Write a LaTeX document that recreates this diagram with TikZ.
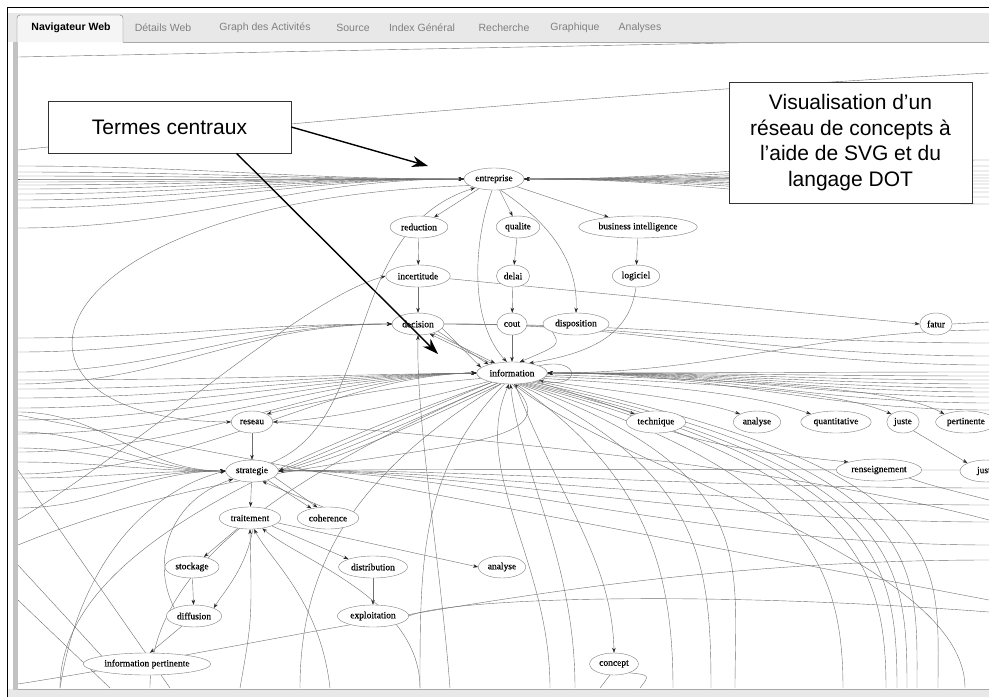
\documentclass[tikz,border=0pt]{standalone}
\usepackage{fontspec}
\usepackage{tikz}
\usetikzlibrary{arrows.meta,shapes.geometric,backgrounds}
\newfontfamily\arialfont{Liberation Sans}
\newfontfamily\timesfont[FakeBold=0.4]{Liberation Serif}
\newcommand{\termfont}{\timesfont\fontsize{9.5}{10}\selectfont}
\newcommand{\calloutfont}{\arialfont\fontsize{21}{25.5}\selectfont}
\newcommand{\tabfont}{\arialfont\fontsize{10.5}{12}\selectfont}
\definecolor{tabgray}{HTML}{E8E8E8}
\definecolor{panelgray}{HTML}{A8A8A8}
\definecolor{wiregray}{HTML}{707070}
\begin{document}
\begin{tikzpicture}[x=1pt,y=-1pt,
 term/.style={ellipse,draw=black!50,fill=white,font=\termfont,inner xsep=2.5pt,inner ysep=1pt,minimum height=22pt},
 lien/.style={draw=wiregray,line width=0.4pt,-{Stealth[length=5pt,width=3.5pt,color=black!85]}},
 wire/.style={draw=wiregray,line width=0.4pt},
 callout/.style={draw=black!80,fill=white,font=\calloutfont,align=center,line width=0.6pt,inner sep=0pt},
 pointer/.style={line width=1.4pt,-{Stealth[length=16pt,width=11pt]}},
 tablabel/.style={font=\tabfont,text=black!50,inner sep=0pt},
]
\useasboundingbox (0,0) rectangle (989,697);

\node[tablabel,text=black,font=\tabfont\bfseries] (tab1) at (71,28) {Navigateur Web};
\foreach \x/\t [count=\i from 2] in {163/Détails Web,265/Graph des Activités,353/Source,422/Index Général,504/Recherche,575/Graphique,640/Analyses}
  \node[tablabel] (tab\i) at (\x,28) {\t};

\node[term] (entreprise) at (494,179) {entreprise};
\node[term] (reduction) at (419,227) {reduction};
\node[term] (qualite) at (518,227) {qualite};
\node[term] (bi) at (638,227) {business intelligence};
\node[term] (incertitude) at (418,276) {incertitude};
\node[term] (delai) at (513,276) {delai};
\node[term] (logiciel) at (636,276) {logiciel};
\node[term] (decision) at (418,324) {decision};
\node[term] (cout) at (512,324) {cout};
\node[term] (disposition) at (576,324) {disposition};
\node[term] (fatur) at (936,324) {fatur};
\node[term] (information) at (512,373) {information};
\node[term] (reseau) at (252,422) {reseau};
\node[term] (technique) at (656,422) {technique};
\node[term] (analyseA) at (757,422) {analyse};
\node[term] (quantitative) at (836,422) {quantitative};
\node[term] (juste) at (903,422) {juste};
\node[term] (pertinente) at (966,422) {pertinente};
\node[term] (renseignement) at (879,470) {renseignement};
\node[term,minimum width=52pt] (justeB) at (986,471) {juste};
\node[term] (strategie) at (252,471) {strategie};
\node[term] (traitement) at (250,518) {traitement};
\node[term] (coherence) at (328,518) {coherence};
\node[term] (stockage) at (192,567) {stockage};
\node[term] (distribution) at (373,567) {distribution};
\node[term] (analyseB) at (502,567) {analyse};
\node[term] (diffusion) at (194,616) {diffusion};
\node[term] (exploitation) at (373,616) {exploitation};
\node[term] (infopert) at (147,664) {information pertinente};
\node[term] (concept) at (614,664) {concept};

\begin{scope}[on background layer]
\fill[white] (0,0) rectangle (989,697);
\fill[tabgray] (7,13) rectangle (989,42);
\fill[tabgray] (7,689) rectangle (989,697);
\fill[panelgray!70] (13,42) rectangle (18,690);
\draw[line width=1pt] (7.5,697) -- (7.5,7.5) -- (989,7.5);
\draw[black!55,fill=white!96!black,rounded corners=3pt] (17,42) -- (17,15) -- (123,15) -- (123,42);
\draw[panelgray] (123,42) -- (989,42);
\draw[panelgray] (18,689) -- (989,689);
\begin{scope}
\clip (18,43) rectangle (989,688);
\coordinate (t1) at (18,57); \coordinate (t2) at (880,40);
\draw[wire] (t1) -- (t2);
\coordinate (t3) at (18,150); \coordinate (t4) at (989,73);
\draw[wire] (t3) .. controls (400,112) and (700,88) .. (t4);

\foreach \y [count=\i] in {166,172,176,179,182,185,189,194,200,208,228}{
  \coordinate (ew\i) at (18,\y);
  \draw[lien] (ew\i) to[out=0,in=180] (entreprise.west);
}
\foreach \y [count=\i] in {160,166,171,175,178,181,184,188,192,197,204}{
  \coordinate (ee\i) at (989,\y);
  \draw[lien] (ee\i) to[out=180,in=0] (entreprise.east);
}
\draw[lien] (entreprise) -- (reduction);
\draw[lien] (entreprise) -- (qualite);
\draw[lien] (entreprise) -- (bi);
\draw[lien] (entreprise.-60) .. controls (560,230) and (578,270) .. (disposition.north);
\draw[lien] (entreprise.-100) .. controls (474,240) and (468,320) .. (information.115);
\draw[lien] (reduction) -- (incertitude);
\draw[lien] (incertitude) -- (decision);
\draw[lien] (qualite) -- (delai);
\draw[lien] (delai) -- (cout);
\draw[lien] (bi) -- (logiciel);
\draw[lien] (cout) -- (information);
\draw[lien] (disposition.south west) .. controls (560,345) .. (information.55);
\draw[lien] (logiciel.south) .. controls (630,330) and (600,352) .. (information.30);
\draw[lien] (incertitude.-5) -- (fatur.west);
\draw[lien] (decision.-10) -- (information.170);
\draw[lien] (decision.-20) -- (information.160);
\draw[lien] (decision.-30) -- (information.150);
\draw[lien] (information.155) -- (decision.-40);
\draw[lien] (information.15) .. controls (582,356) and (582,390) .. (information.-15);

\draw[lien] (information.-20) .. controls (580,395) and (600,402) .. (technique.north west);
\draw[lien] (information.-15) .. controls (620,392) and (700,400) .. (analyseA.north west);
\draw[lien] (information.-10) .. controls (680,386) and (760,396) .. (quantitative.north west);
\draw[lien] (information.-6) .. controls (760,384) and (850,396) .. (juste.north west);
\draw[lien] (information.-3) .. controls (830,382) and (910,395) .. (pertinente.north west);
\draw[lien] (juste.-40) -- (justeB.north west);
\draw[lien] (technique.-30) .. controls (720,448) and (790,456) .. (renseignement.north west);
\coordinate (rr) at (989,500);
\draw[wire] (renseignement.-15) .. controls (930,485) .. (rr);

\foreach \y [count=\i] in {330,372,376,380,384,388,392,397,403,410}{
  \coordinate (ie\i) at (989,\y);
  \draw[lien] (ie\i) to[out=180,in=0] (information.east);
}
\foreach \y [count=\i] in {343,356,365}{
  \coordinate (dr\i) at (989,\y);
  \draw[wire] (decision.east) to[out=0,in=180] (dr\i);
}
\coordinate (fr) at (989,322);
\draw[wire] (fatur.east) -- (fr);
\foreach \y [count=\i] in {338,352,372,384}{
  \coordinate (dl\i) at (18,\y);
  \draw[lien] (dl\i) to[out=0,in=180] (decision.west);
}
\coordinate (il) at (18,520);
\draw[lien] (il) .. controls (150,440) and (300,300) .. (incertitude.west);

\foreach \y [count=\i] in {380,389,398,408,420,434,452,474}{
  \coordinate (iw\i) at (18,\y);
  \draw[lien] (iw\i) .. controls (200,\y) and (330,375) .. (information.west);
}
\draw[lien] (information.190) .. controls (400,385) and (320,400) .. (reseau.north east);
\draw[lien] (information.200) .. controls (420,400) and (330,420) .. (reseau.east);
\foreach \a/\d in {205/0,215/6,225/12}
  \draw[lien] (information.\a) .. controls (400,420+\d) and (320,455+\d) .. (strategie.east);

\foreach \y [count=\i] in {412,432,448,462,478,492,508}{
  \coordinate (sl\i) at (18,\y);
  \draw[lien] (sl\i) to[out=0,in=180] (strategie.west);
}
\foreach \y [count=\i] in {470,488,505,522,545}{
  \coordinate (sr\i) at (989,\y);
  \draw[lien] (sr\i) .. controls (700,\y) and (450,468) .. (strategie.east);
}

\foreach \a/\bx/\cx [count=\i] in {205/60/250,215/150/300,225/300/360,236/420/420,290/673/640,298/711/700,305/735/760,312/843/800,318/886/850,324/897/880,330/907/900,336/917/930,342/938/960}{
  \coordinate (ib\i) at (\bx,688);
  \draw[wire] (information.\a) .. controls (\cx,470) and (\bx,560) .. (ib\i);
}
\foreach \a/\bx/\cx [count=\i] in {255/550/470,262/575/520,280/965/620}{
  \coordinate (ia\i) at (\bx,688);
  \draw[lien] (ia\i) .. controls (\bx,560) and (\cx,470) .. (information.\a);
}

\draw[lien] (reseau) -- (strategie);
\draw[lien] (strategie) -- (traitement);
\draw[lien] (strategie.-30) -- (coherence.150);
\draw[lien] (strategie.-15) -- (coherence.135);
\draw[lien] (coherence.115) -- (strategie.-45);
\draw[lien] (traitement) -- (stockage);
\draw[lien] (traitement.-75) .. controls (245,570) and (225,590) .. (diffusion.north east);
\draw[lien] (stockage) -- (diffusion);
\draw[lien] (diffusion) -- (infopert.75);
\draw[lien] (traitement.-20) -- (distribution.north west);
\draw[lien] (distribution) -- (exploitation);
\draw[lien] (traitement.-10) -- (analyseB.west);

\draw[lien] (entreprise.195) .. controls (20,200) and (-30,420) .. (reseau.west);
\draw[lien] (strategie.north east) .. controls (380,420) and (340,230) .. (entreprise.205);

\coordinate (db) at (450,688);
\draw[lien] (db) .. controls (440,560) and (416,420) .. (decision.south);
\coordinate (tb1) at (240,688); \coordinate (tb2) at (330,688); \coordinate (tb3) at (420,688);
\draw[lien] (tb1) .. controls (252,620) .. (traitement.south);
\draw[lien] (tb2) .. controls (320,600) and (270,560) .. (traitement.-70);
\draw[lien] (tb3) .. controls (420,600) and (300,560) .. (traitement.-40);

\draw[lien] (information.-75) .. controls (560,500) and (612,560) .. (concept.north);
\coordinate (cb1) at (600,688); \coordinate (cb2) at (640,688);
\draw[wire] (concept.-110) -- (cb1);
\draw[wire] (concept.-30) .. controls (650,675) .. (cb2);

\coordinate (x1) at (18,415); \coordinate (x2) at (989,600);
\draw[wire] (x1) -- (x2);
\coordinate (x3) at (18,470); \coordinate (x4) at (170,688);
\draw[wire] (x3) -- (x4);
\coordinate (x5) at (18,600); \coordinate (x6) at (110,688);
\draw[wire] (x5) -- (x6);
\coordinate (x7) at (18,684); \coordinate (x8) at (989,560);
\draw[wire] (x7) .. controls (300,640) and (600,560) .. (x8);
\coordinate (x9) at (989,612);
\draw[wire] (exploitation.east) .. controls (450,598) and (700,590) .. (x9);
\coordinate (x10) at (989,520);
\draw[wire] (reseau.east) .. controls (500,440) and (800,470) .. (x10);
\coordinate (x11) at (18,565);
\draw[wire] (infopert.north west) -- (x11);
\coordinate (x12) at (60,688);
\draw[lien] (x12) .. controls (80,560) and (150,490) .. (strategie.west);
\draw[lien] (diffusion.north west) .. controls (150,560) and (170,500) .. (strategie.south west);
\coordinate (x13) at (18,545);
\draw[wire] (x13) .. controls (300,430) and (600,470) .. (information.south);
\end{scope}
\end{scope}

\node[callout,minimum width=243pt,minimum height=52pt] (termes) at (169.5,127) {Termes centraux};
\node[callout,minimum width=243pt,minimum height=121pt] (visu) at (850.5,142.5) {Visualisation d’un\\réseau de concepts à\\l’aide de SVG et du\\langage DOT};
\coordinate (tipE) at (428,166);
\coordinate (tipI) at (438,354);
\draw[pointer] (termes.east) -- (tipE);
\draw[pointer] ([xshift=67pt]termes.south) -- (tipI);
\end{tikzpicture}
\end{document}
